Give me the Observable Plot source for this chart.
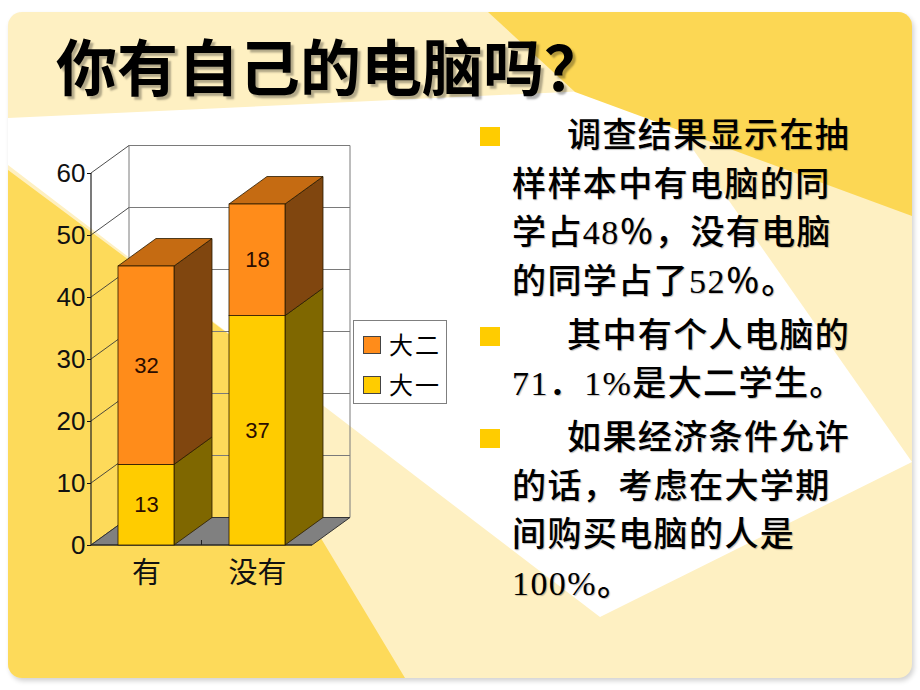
<!DOCTYPE html>
<html><head><meta charset="utf-8">
<script src="https://cdn.jsdelivr.net/npm/d3@7"></script>
<script src="https://cdn.jsdelivr.net/npm/@observablehq/plot@0.6"></script>
<style>
html,body{margin:0;padding:0;background:#fff;}
#page{position:relative;width:920px;height:690px;overflow:hidden;background:#fff;}
#slide{position:absolute;left:8px;top:12px;width:904px;height:666px;border-radius:14px;overflow:hidden;background:#FEF0C2;box-shadow:2px 3px 5px rgba(0,0,0,0.18);}
.ray{position:absolute;left:0;top:0;width:100%;height:100%;}
#chart{position:absolute;left:0;top:0;}
#title{position:absolute;left:56px;top:34px;font-family:"Noto Sans CJK SC",sans-serif;font-weight:700;font-size:61px;line-height:62px;color:#000;text-shadow:3px 3px 2px rgba(0,0,0,0.3);white-space:nowrap;}
#notes{position:absolute;left:512px;top:112px;font-family:"Liberation Serif","Noto Sans CJK SC",serif;font-weight:500;font-size:34px;letter-spacing:1.4px;line-height:48.5px;color:#000;white-space:nowrap;text-shadow:1px 1px 1px rgba(0,0,0,0.25);}
#notes p{position:relative;margin:0 0 5.5px 0;text-indent:55px;}
#notes .b{position:absolute;left:-32px;top:15px;width:20px;height:19px;background:#FFCC00;text-indent:0;}
#legend{position:absolute;left:353px;top:320px;width:92px;height:82px;background:#fff;border:1px solid #7f7f7f;font-family:"Noto Sans CJK SC",sans-serif;font-size:24px;letter-spacing:2px;color:#000;}
#legend .item{position:absolute;left:9px;height:24px;line-height:24px;white-space:nowrap;}
#legend .sw{display:inline-block;width:16px;height:16px;border:1px solid #444;vertical-align:middle;margin-right:8px;position:relative;top:-2px;}
</style></head>
<body>
<div id="page">
  <div id="slide">
    <div class="ray" style="background:#FFFFFF;clip-path:polygon(0px 106px,642px 76px,904px 450px,592px 605px,0px 153px);"></div>
    <div class="ray" style="background:#FCD754;clip-path:polygon(480px 0px,904px 0px,904px 204px,567px 80px);"></div>
    <div class="ray" style="background:#FDDA5A;clip-path:polygon(0px 158px,242px 338px,302px 508px,397px 666px,0px 666px);"></div>
  </div>
  <div id="title">你有自己的电脑吗？</div>
  <div id="chart"></div>
  <div id="legend"></div>
  <div id="notes">
    <p><span class="b"></span>调查结果显示在抽<br>样样本中有电脑的同<br>学占48％，没有电脑<br>的同学占了52％。</p>
    <p><span class="b"></span>其中有个人电脑的<br>71．1%是大二学生。</p>
    <p><span class="b"></span>如果经济条件允许<br>的话，考虑在大学期<br>间购买电脑的人是<br>100%。</p>
  </div>
</div>
<script>
// ---- data ----
const categories = ["有", "没有"];
const seriesNames = ["大一", "大二"];
const freshmen = [13, 37];    // 大一
const sophomores = [32, 18];  // 大二
const yTicks = [0, 10, 20, 30, 40, 50, 60];
const frontColors = ["#FFCC00", "#FF8C1A"];
const sideColors = ["#7F6700", "#80460F"];
const topColors = ["#C9A000", "#C56B12"];

const seriesValues = [freshmen, sophomores];
const rows = [];
categories.forEach((cat, i) => {
  let base = 0;
  seriesNames.forEach((s, j) => {
    const v = seriesValues[j][i];
    rows.push({cat, series: s, idx: j, v, y1: base, y2: base + v, last: j === seriesNames.length - 1});
    base += v;
  });
});

// 3D depth offset (pixels)
const DX = 38, DY = -27.5;
const EDGE = "#2a1a00";

function bandwidthOf(sx) { return typeof sx.bandwidth === "function" ? sx.bandwidth() : 0; }
function pts(a) { return a.map(p => p.join(",")).join(" "); }

// walls, gridlines and floor
function wallsMark(index, scales) {
  const sx = scales.x, sy = scales.y;
  const [x0, x1] = sx.range();
  const g = d3.create("svg:g");
  const yTop = sy(yTicks[yTicks.length - 1]), yBot = sy(yTicks[0]);
  g.append("polygon").attr("points", pts([[x0 + DX, yTop + DY], [x1 + DX, yTop + DY], [x1 + DX, yBot + DY], [x0 + DX, yBot + DY]]))
    .attr("fill", "none").attr("stroke", "#7a7a7a").attr("stroke-width", 1);
  for (const t of yTicks) {
    g.append("line").attr("x1", x0 + DX).attr("x2", x1 + DX).attr("y1", sy(t) + DY).attr("y2", sy(t) + DY)
      .attr("stroke", "#7a7a7a").attr("stroke-width", 1);
    g.append("line").attr("x1", x0).attr("x2", x0 + DX).attr("y1", sy(t)).attr("y2", sy(t) + DY)
      .attr("stroke", "#3a3a3a").attr("stroke-width", 0.9);
  }
  g.append("polygon").attr("points", pts([[x0, yBot], [x1, yBot], [x1 + DX, yBot + DY], [x0 + DX, yBot + DY]]))
    .attr("fill", "#808080").attr("stroke", "#333").attr("stroke-width", 1);
  g.append("line").attr("x1", x0).attr("x2", x0).attr("y1", yTop).attr("y2", yBot).attr("stroke", "#222").attr("stroke-width", 1.2);
  g.append("line").attr("x1", x0).attr("x2", x1).attr("y1", yBot).attr("y2", yBot).attr("stroke", "#222").attr("stroke-width", 1.2);
  const mid = (sx(categories[0]) + bandwidthOf(sx) + sx(categories[1])) / 2;
  g.append("line").attr("x1", mid).attr("x2", mid).attr("y1", yBot).attr("y2", yBot - 5).attr("stroke", "#222").attr("stroke-width", 1);
  return g.node();
}

// side and top faces of the stacked columns
function facesMark(index, scales) {
  const sx = scales.x, sy = scales.y;
  const bw = bandwidthOf(sx);
  const g = d3.create("svg:g").attr("stroke", EDGE).attr("stroke-width", 0.8).attr("stroke-linejoin", "round");
  for (const r of rows) {
    const xl = sx(r.cat), xr = xl + bw;
    const ya = sy(r.y1), yb = sy(r.y2);
    g.append("polygon").attr("points", pts([[xr, ya], [xr + DX, ya + DY], [xr + DX, yb + DY], [xr, yb]]))
      .attr("fill", sideColors[r.idx]);
    if (r.last) {
      g.append("polygon").attr("points", pts([[xl, yb], [xr, yb], [xr + DX, yb + DY], [xl + DX, yb + DY]]))
        .attr("fill", topColors[r.idx]);
    }
  }
  return g.node();
}

const chart = Plot.plot({
  width: 920,
  height: 690,
  marginLeft: 91,
  marginRight: 608,
  marginTop: 173,
  marginBottom: 145,
  style: {background: "transparent", overflow: "visible", fontFamily: "'Liberation Sans', Arial, sans-serif", fontSize: "26px", color: "#111"},
  x: {domain: categories, paddingInner: 0.5, paddingOuter: 0.24},
  y: {domain: [0, 60]},
  color: {domain: seriesNames, range: frontColors},
  marks: [
    wallsMark,
    facesMark,
    Plot.barY(rows, {x: "cat", y1: "y1", y2: "y2", fill: "series", stroke: EDGE, strokeWidth: 0.8}),
    Plot.text(rows, {x: "cat", y: d => (d.y1 + d.y2) / 2, text: d => String(d.v), fill: "#2b0d00", fontSize: 22, fontFamily: "'Liberation Sans', Arial, sans-serif"}),
    Plot.axisY({ticks: yTicks, tickSize: 4, tickPadding: 2, fontSize: 26, label: null}),
    Plot.axisX({tickSize: 0, tickPadding: 17, fontSize: 29, label: null, fontFamily: "'Noto Sans CJK SC', sans-serif"})
  ]
});
document.getElementById("chart").appendChild(chart);

// legend (top to bottom: 大二, 大一)
const legend = d3.select("#legend");
seriesNames.slice().reverse().forEach((s, k) => {
  const j = seriesNames.indexOf(s);
  const it = legend.append("div").attr("class", "item").style("top", (11 + k * 39.5) + "px");
  it.append("span").attr("class", "sw").style("background", frontColors[j]);
  it.append("span").text(s);
});
</script>
</body></html>
